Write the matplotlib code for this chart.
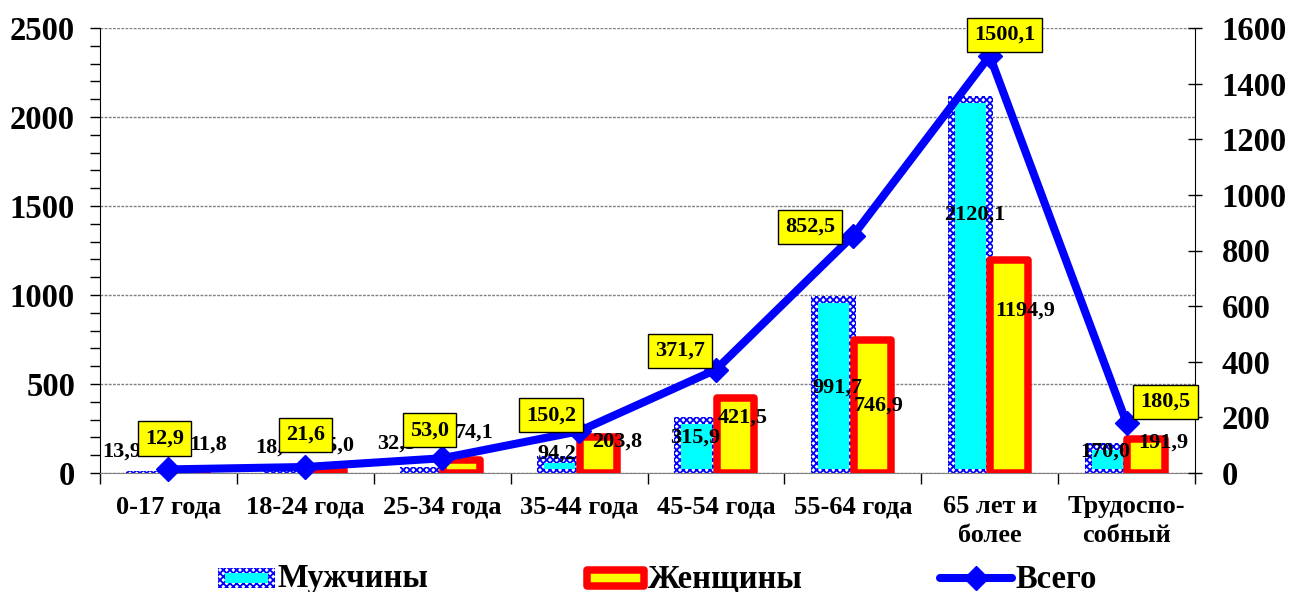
import numpy as np
import matplotlib
matplotlib.use("Agg")
import matplotlib.pyplot as plt
from matplotlib.patches import Rectangle
from matplotlib.lines import Line2D
from matplotlib.ticker import MultipleLocator

# ---------------- data ----------------
categories = ["0-17 года", "18-24 года", "25-34 года", "35-44 года", "45-54 года",
              "55-64 года", "65 лет и\nболее", "Трудоспо-\nсобный"]
men = [13.9, 18.2, 32.5, 94.2, 315.9, 991.7, 2120.1, 170.0]
women = [11.8, 15.0, 74.1, 203.8, 421.5, 746.9, 1194.9, 191.9]
total = [12.9, 21.6, 53.0, 150.2, 371.7, 852.5, 1500.1, 180.5]
series_names = ["Мужчины", "Женщины", "Всего"]
left_ticks = [0, 500, 1000, 1500, 2000, 2500]
right_ticks = [0, 200, 400, 600, 800, 1000, 1200, 1400, 1600]

# ---------------- layout (label offsets in pixels, x right / y up) ----------------
men_lbl_off = [(-27, 19), (-11, 22), (-26, 24), (-3, 3), (-1, -21), (4, -91), (5, -119), (-2, -9)]
women_lbl_off = [(20, 26), (10, 25), (12, 27), (19, -5), (7, -20), (6, -66), (16, -50), (17, -4)]
total_lbl_off = [(-4, 31), (0, 32), (-13, 28), (-28, 16), (-36, 19), (-43, 9), (15, 21), (39, 21)]

W, H, DPI = 1290, 592, 100
SERIF = ["Liberation Serif", "DejaVu Serif"]
plt.rcParams["font.family"] = SERIF
plt.rcParams["font.weight"] = "bold"
plt.rcParams["hatch.linewidth"] = 1.3

BLUE = "#0000FF"
CYAN = "#00FFFF"
RED = "#FF0000"
YELLOW = "#FFFF00"

fig = plt.figure(figsize=(W / DPI, H / DPI), dpi=DPI)
ax_l, ax_r, ax_b, ax_t = 100, 1195, 473, 28
ax = fig.add_axes([ax_l / W, 1 - ax_b / H, (ax_r - ax_l) / W, (ax_b - ax_t) / H])
ax.set_facecolor("none")

n = len(categories)
x = np.arange(n)
px_per_cat = (ax_r - ax_l) / n
px_per_unit_l = (ax_b - ax_t) / 2500.0
off = 19.5 / px_per_cat
men_w = 45 / px_per_cat
wom_w = 37.5 / px_per_cat
border_x = 7 / px_per_cat
border_top = 7 / px_per_unit_l
border_bot = 4 / px_per_unit_l

ax.set_xlim(-0.5, n - 0.5)
ax.set_ylim(0, 2500)

# men: checkered blue border + cyan inside
ax.bar(x - off, men, width=men_w, color="white", edgecolor=BLUE, hatch="xxxxx",
       linewidth=0, zorder=2)
inner_h = [max(v - border_top - border_bot, 0) for v in men]
ax.bar(x - off, inner_h, bottom=border_bot, width=men_w - 2 * border_x, color=CYAN,
       linewidth=0, zorder=2.1)
# women: yellow with thick red border
ax.bar(x + off, women, width=wom_w, color=YELLOW, edgecolor=RED, linewidth=5.4,
       joinstyle="round", zorder=3)

# grid
ax.yaxis.grid(True, linestyle=(0, (2, 1)), color="#808080", linewidth=1, zorder=0)
ax.set_axisbelow(True)

# axes styling
ax.spines["top"].set_visible(False)
ax.spines["right"].set_visible(False)
ax.spines["bottom"].set_color("#808080")
ax.spines["left"].set_color("black")
ax.set_yticks(left_ticks)
ax.yaxis.set_minor_locator(MultipleLocator(100))
ax.tick_params(axis="y", which="both", direction="out", length=7, width=1, pad=11,
               labelsize=23.5)
ax.set_xticks(x)
ax.set_xticklabels(categories, fontsize=19, fontweight="bold", linespacing=1.3)
ax.set_xticks(np.arange(-0.5, n, 1), minor=True)
ax.tick_params(axis="x", which="major", length=0, pad=16)
ax.tick_params(axis="x", which="minor", length=8, width=1, color="black")
for lab in ax.get_yticklabels():
    lab.set_fontweight("bold")

lbl_font = dict(fontsize=16, fontweight="bold", ha="center", va="center", color="black")
for i in range(n):
    ax.annotate(f"{men[i]:.1f}".replace(".", ","), xy=(x[i] - off, men[i]),
                xytext=men_lbl_off[i], textcoords="offset pixels", zorder=6, **lbl_font)
    ax.annotate(f"{women[i]:.1f}".replace(".", ","), xy=(x[i] + off, women[i]),
                xytext=women_lbl_off[i], textcoords="offset pixels", zorder=6, **lbl_font)

# total line on secondary axis
ax2 = ax.twinx()
ax2.set_ylim(0, 1600)
ax2.set_yticks(right_ticks)
ax2.plot(x, total, color=BLUE, linewidth=5.8, marker="D", markersize=12,
         markerfacecolor=BLUE, markeredgecolor=BLUE, solid_joinstyle="miter", zorder=4,
         clip_on=False)
ax2.spines["top"].set_visible(False)
ax2.spines["left"].set_visible(False)
ax2.spines["bottom"].set_visible(False)
ax2.spines["right"].set_color("black")
ax2.tick_params(axis="y", direction="inout", length=10, width=1, pad=14, labelsize=23.5)
for lab in ax2.get_yticklabels():
    lab.set_fontweight("bold")
for i in range(n):
    ax2.annotate(f"{total[i]:.1f}".replace(".", ","), xy=(x[i], total[i]),
                 xytext=total_lbl_off[i], textcoords="offset pixels", zorder=7,
                 bbox=dict(boxstyle="square,pad=0.32", facecolor=YELLOW, edgecolor="black",
                           linewidth=1), annotation_clip=False, **lbl_font)

# legend drawn in pixel coordinates
lg = fig.add_axes([0, 0, 1, 1])
lg.set_xlim(0, W)
lg.set_ylim(H, 0)
lg.axis("off")
lg.set_zorder(10)
lg.add_patch(Rectangle((218, 568), 57, 20, facecolor="white", edgecolor=BLUE, hatch="xxxxx",
                       linewidth=0))
lg.add_patch(Rectangle((225, 573), 43, 10, facecolor=CYAN, linewidth=0))
lg.text(278, 579, series_names[0], fontsize=23.5, fontweight="bold", va="center", ha="left")
lg.add_patch(Rectangle((587, 570), 57, 16, facecolor=YELLOW, edgecolor=RED, linewidth=5.4,
                       joinstyle="round"))
lg.text(648, 579, series_names[1], fontsize=23.5, fontweight="bold", va="center", ha="left")
lg.add_line(Line2D([940, 1012], [578, 578], color=BLUE, linewidth=5.8,
                   solid_capstyle="round"))
lg.add_line(Line2D([976], [578], color=BLUE, marker="D", markersize=12, linewidth=0))
lg.text(1016, 579, series_names[2], fontsize=23.5, fontweight="bold", va="center", ha="left")

fig.savefig("out.png", dpi=DPI)
